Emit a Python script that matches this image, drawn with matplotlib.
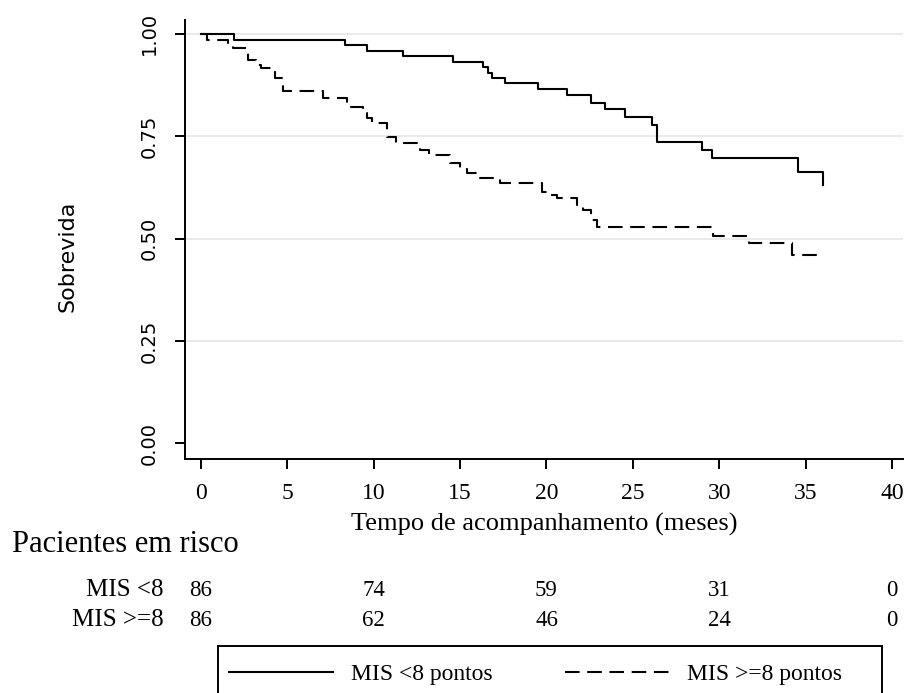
import matplotlib
matplotlib.use("Agg")
import matplotlib.pyplot as plt
from matplotlib import transforms
from matplotlib.lines import Line2D
from matplotlib.patches import Rectangle

plt.rcParams["lines.scale_dashes"] = False

# Kaplan-Meier step points (time in months, survival) per MIS group
time_lt8 = [0.0, 1.93, 8.34, 9.59, 11.68, 14.61, 16.35, 16.62, 16.83, 17.60,
            19.53, 21.18, 22.57, 23.39, 24.55, 26.13, 26.39, 29.00, 29.61,
            34.59, 36.00]
surv_lt8 = [1.000, 0.986, 0.974, 0.959, 0.946, 0.932, 0.920, 0.905, 0.892, 0.880,
            0.866, 0.851, 0.831, 0.817, 0.797, 0.778, 0.736, 0.717, 0.698,
            0.662, 0.631]

time_ge8 = [0.0, 0.33, 1.58, 1.87, 2.74, 3.20, 3.50, 4.30, 4.75, 7.08, 8.44,
            9.40, 9.60, 9.90, 10.75, 11.30, 12.68, 13.20, 14.42, 15.00, 15.38,
            16.00, 17.31, 19.73, 20.20, 20.60, 21.75, 22.10, 22.60, 22.90,
            29.66, 31.70, 34.20, 35.85]
surv_ge8 = [1.000, 0.986, 0.978, 0.966, 0.937, 0.925, 0.918, 0.893, 0.860, 0.844,
            0.822, 0.807, 0.795, 0.783, 0.749, 0.733, 0.717, 0.705, 0.684, 0.670,
            0.660, 0.648, 0.635, 0.615, 0.607, 0.599, 0.582, 0.570, 0.546, 0.528,
            0.507, 0.489, 0.460, 0.460]

# number at risk table
risk_times = [0, 10, 20, 30, 40]
at_risk_lt8 = [86, 74, 59, 31, 0]
at_risk_ge8 = [86, 62, 46, 24, 0]
risk_rows = ["MIS <8", "MIS >=8"]
legend_labels = ["MIS <8 pontos", "MIS >=8 pontos"]

x_ticks = list(range(0, 45, 5))
y_ticks = [0.0, 0.25, 0.5, 0.75, 1.0]

SERIF = "Liberation Serif"
SANS = "DejaVu Sans"
W, H = 907, 693

fig = plt.figure(figsize=(W / 100, H / 100), dpi=100)
ax = fig.add_axes([185 / W, 1 - 459 / H, (903 - 185) / W, (459 - 20) / H])

ax.set_xlim(-0.926, 40.64)
ax.set_ylim(-0.038, 1.034)

for y in y_ticks[1:]:
    ax.axhline(y, color="#e4e4e4", linewidth=1.1, zorder=0)

dash = (10.5, 5.5)
ax.step(time_lt8, surv_lt8, where="post", color="black", linewidth=1.5)
ax.step(time_ge8, surv_ge8, where="post", color="black", linewidth=1.5,
        dashes=dash)

for side in ("top", "right"):
    ax.spines[side].set_visible(False)
for side in ("left", "bottom"):
    ax.spines[side].set_linewidth(1.4)

ax.set_xticks(x_ticks)
ax.set_xticklabels([str(t) for t in x_ticks], fontfamily=SERIF, fontsize=17)
ax.set_yticks(y_ticks)
ax.set_yticklabels([f"{v:.2f}" for v in y_ticks], fontfamily=SANS, fontsize=14,
                   rotation=90, va="center")
ax.tick_params(axis="both", direction="out", length=7, width=1.4)
ax.tick_params(axis="x", pad=10)
ax.tick_params(axis="y", pad=12)

ax.set_xlabel("Tempo de acompanhamento (meses)", fontfamily=SERIF, fontsize=19)
ax.xaxis.set_label_coords(0.5, -0.150)
ax.xaxis.label.set_va("center")
ax.set_ylabel("Sobrevida", fontfamily=SANS, fontsize=16)
ax.yaxis.set_label_coords(-0.164, 0.462)
ax.yaxis.label.set_va("center")

# at-risk table under the axis
fig.text(12 / W, 1 - 545 / H, "Pacientes em risco", fontfamily=SERIF,
         fontsize=22, ha="left", va="center")
blend = transforms.blended_transform_factory(ax.transData, fig.transFigure)
for row_y, name, counts in ((590, risk_rows[0], at_risk_lt8),
                            (620, risk_rows[1], at_risk_ge8)):
    yf = 1 - row_y / H
    fig.text(164 / W, yf, name, fontfamily=SERIF, fontsize=18,
             ha="right", va="center")
    for t, n in zip(risk_times, counts):
        ax.text(t, yf, str(n), transform=blend, fontfamily=SERIF, fontsize=16.5,
                ha="center", va="center", clip_on=False)

# legend box runs past the lower edge
fig.patches.append(Rectangle((218 / W, -0.05), (882 - 218) / W,
                             1 - 646 / H + 0.05, transform=fig.transFigure,
                             fill=False, edgecolor="black", linewidth=1.4))
handles = [Line2D([0], [0], color="black", linewidth=1.5),
           Line2D([0], [0], color="black", linewidth=1.5, dashes=dash)]
fig.legend(handles, legend_labels, loc="center left",
           bbox_to_anchor=(229 / W, 1 - 674 / H), ncol=2, frameon=False,
           borderpad=0, borderaxespad=0, handlelength=4.4, handletextpad=0.75,
           columnspacing=3.1, prop={"family": SERIF, "size": 17})

fig.savefig("out.png", dpi=100)
